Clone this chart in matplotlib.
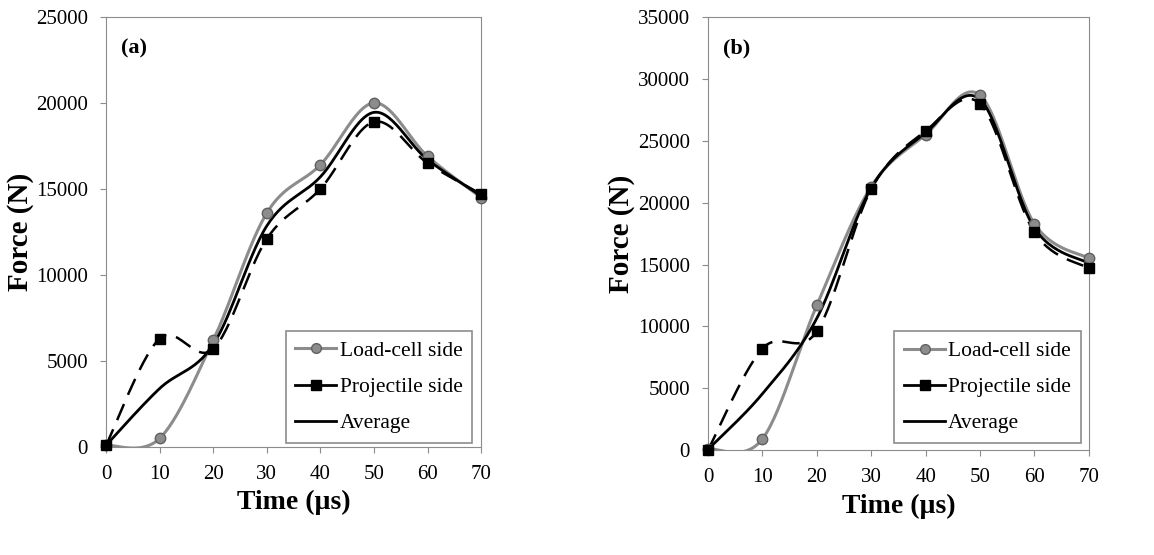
import numpy as np
import matplotlib
matplotlib.use("Agg")
import matplotlib.pyplot as plt
from matplotlib.lines import Line2D

plt.rcParams['font.family'] = ['Liberation Serif', 'DejaVu Serif']

time_us = [0, 10, 20, 30, 40, 50, 60, 70]

# panel (a)
load_a = [100, 500, 6200, 13600, 16400, 20000, 16900, 14500]
proj_a = [100, 6300, 5700, 12100, 15000, 18900, 16500, 14700]
avg_a = [100, 3400, 5950, 12850, 15700, 19450, 16700, 14600]

# panel (b)
load_b = [100, 900, 11700, 21300, 25500, 28700, 18300, 15500]
proj_b = [0, 8200, 9600, 21100, 25800, 28000, 17600, 14700]
avg_b = [50, 4550, 10650, 21200, 25650, 28350, 17950, 15100]


def smooth(x, y, n=30):
    # catmull-rom style smoothing, like excel "smoothed line"
    x = np.asarray(x, float)
    y = np.asarray(y, float)
    px = np.concatenate([[x[0]], x, [x[-1]]])
    py = np.concatenate([[y[0]], y, [y[-1]]])
    xs, ys = [], []
    t = np.linspace(0, 1, n)
    for i in range(1, len(px) - 2):
        p0, p1, p2, p3 = [np.array([px[j], py[j]]) for j in (i - 1, i, i + 1, i + 2)]
        c1 = p1 + (p2 - p0) / 6
        c2 = p2 - (p3 - p1) / 6
        b = ((1 - t) ** 3)[:, None] * p1 + (3 * (1 - t) ** 2 * t)[:, None] * c1 \
            + (3 * (1 - t) * t ** 2)[:, None] * c2 + (t ** 3)[:, None] * p2
        xs.append(b[:, 0])
        ys.append(b[:, 1])
    return np.concatenate(xs), np.concatenate(ys)


gray = '#8c8c8c'
fig = plt.figure(figsize=(11.54, 5.55), dpi=100)
ax1 = fig.add_axes([0.0919, 0.1946, 0.325, 0.775])
ax2 = fig.add_axes([0.6135, 0.189, 0.330, 0.780])

panels = [(ax1, load_a, proj_a, avg_a, 25000, '(a)', (0.976, 0.009)),
          (ax2, load_b, proj_b, avg_b, 35000, '(b)', (0.979, 0.016))]

for ax, load, proj, avg, ymax, tag, legpos in panels:
    sx, sy = smooth(time_us, load)
    ax.plot(sx, sy, color=gray, lw=2.2, zorder=3)
    ax.plot(time_us, load, 'o', color=gray, mec='#606060', ms=7.5, zorder=5, clip_on=False)
    sx, sy = smooth(time_us, proj)
    ax.plot(sx, sy, color='black', lw=1.8, dashes=(7, 4), zorder=3)
    ax.plot(time_us, proj, 's', color='black', ms=7, zorder=5, clip_on=False)
    sx, sy = smooth(time_us, avg)
    ax.plot(sx, sy, color='black', lw=2.0, zorder=4)

    ax.set_xlim(0, 70)
    ax.set_ylim(0, ymax)
    ax.set_xticks(range(0, 71, 10))
    ax.set_yticks(range(0, ymax + 1, 5000))
    ax.tick_params(labelsize=15, direction='out', length=4, color=gray)
    ax.tick_params(axis='y', pad=9)
    ax.tick_params(axis='x', pad=9)
    for s in ax.spines.values():
        s.set_color(gray)
    ax.set_xlabel('Time (µs)', fontsize=20, fontweight='bold', va='center')
    ax.set_ylabel('Force (N)', fontsize=21, fontweight='bold', va='center')
    ax.xaxis.set_label_coords(0.5, -0.13)
    ax.yaxis.set_label_coords(-0.227, 0.5)
    ax.text(0.04, 0.95, tag, transform=ax.transAxes, fontsize=16,
            fontweight='bold', va='top')

    handles = [Line2D([], [], color=gray, lw=2.2, marker='o', mfc=gray, mec='#606060', ms=7),
               Line2D([], [], color='black', lw=2.0, marker='s', ms=7),
               Line2D([], [], color='black', lw=2.0)]
    leg = ax.legend(handles, ['Load-cell side', 'Projectile side', 'Average'],
                    loc='lower right', bbox_to_anchor=legpos, borderaxespad=0,
                    fontsize=15.5, fancybox=False, framealpha=1, edgecolor=gray,
                    handlelength=1.9, handletextpad=0.15, borderpad=0.45,
                    labelspacing=0.75)
    leg.get_frame().set_linewidth(1.2)

fig.savefig('out.png', dpi=100)
